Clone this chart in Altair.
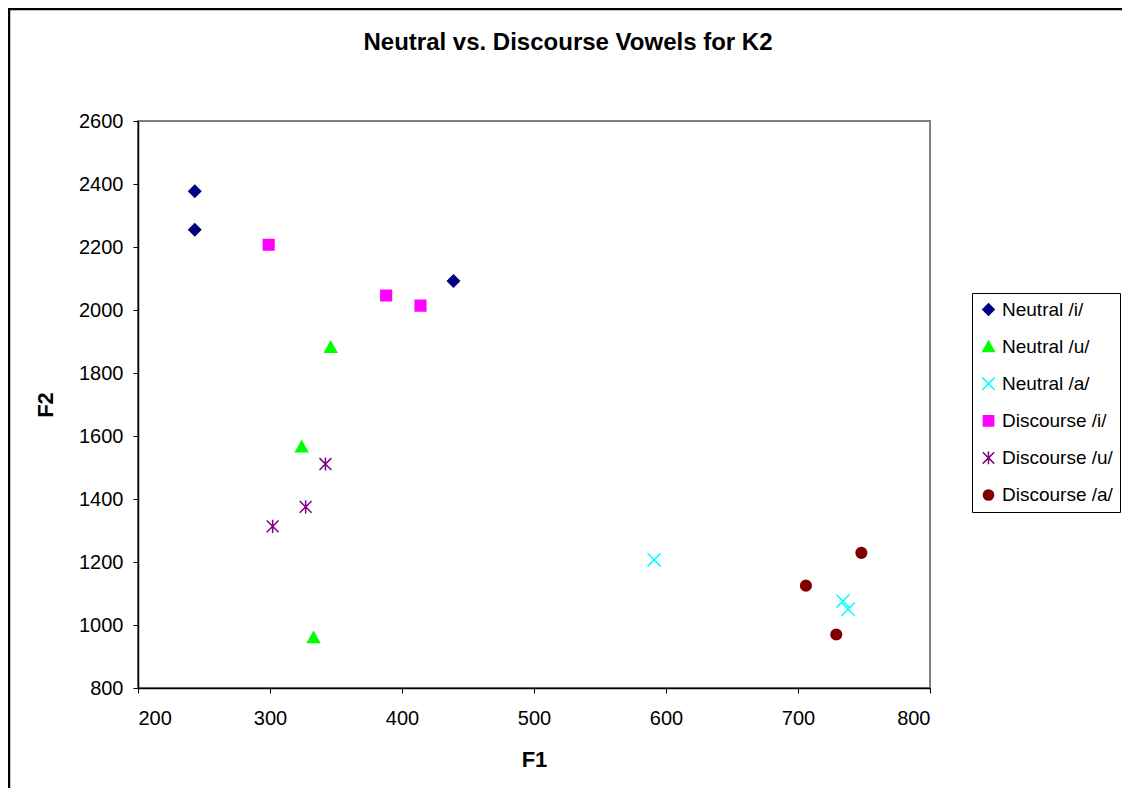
import altair as alt
import pandas as pd

series_names = ["Neutral /i/", "Neutral /u/", "Neutral /a/",
                "Discourse /i/", "Discourse /u/", "Discourse /a/"]
series_colors = ["#000080", "#00FF00", "#00FFFF", "#FF00FF", "#800080", "#800000"]

neutral_i_f1 = [243, 243, 439]
neutral_i_f2 = [2377, 2255, 2092]
neutral_u_f1 = [346, 324, 333]
neutral_u_f2 = [1882, 1566, 960]
neutral_a_f1 = [591, 734, 738]
neutral_a_f2 = [1207, 1076, 1050]
discourse_i_f1 = [299, 388, 414]
discourse_i_f2 = [2207, 2046, 2014]
discourse_u_f1 = [342, 327, 302]
discourse_u_f2 = [1511, 1375, 1313]
discourse_a_f1 = [748, 706, 729]
discourse_a_f2 = [1229, 1125, 970]

x_ticks = [200, 300, 400, 500, 600, 700, 800]
y_ticks = [800, 1000, 1200, 1400, 1600, 1800, 2000, 2200, 2400, 2600]

all_f1 = [neutral_i_f1, neutral_u_f1, neutral_a_f1, discourse_i_f1, discourse_u_f1, discourse_a_f1]
all_f2 = [neutral_i_f2, neutral_u_f2, neutral_a_f2, discourse_i_f2, discourse_u_f2, discourse_a_f2]

rows = []
for name, f1s, f2s in zip(series_names, all_f1, all_f2):
    for a, b in zip(f1s, f2s):
        rows.append({"series": name, "F1": a, "F2": b})
df = pd.DataFrame(rows)

# marker shapes (unit SVG paths)
shape_diamond = "M0,-0.95L0.95,0L0,0.95L-0.95,0Z"
shape_triangle = "M0,-0.9L0.95,0.8L-0.95,0.8Z"
shape_x = "M-1.05,-1.05L1.05,1.05M1.05,-1.05L-1.05,1.05"
shape_square = "M-0.85,-0.85L0.85,-0.85L0.85,0.85L-0.85,0.85Z"
shape_asterisk = "M-0.95,-0.95L0.95,0.95M0.95,-0.95L-0.95,0.95M0,-1.05L0,1.05"
shape_circle = "M0.85,0A0.85,0.85,0,1,1,-0.85,0A0.85,0.85,0,1,1,0.85,0Z"
series_shapes = [shape_diamond, shape_triangle, shape_x, shape_square, shape_asterisk, shape_circle]

FONT = "Liberation Sans"

legend = alt.Legend(
    title=None, orient="none", legendX=834, legendY=172,
    padding=7, strokeColor="black", fillColor="white",
    labelFontSize=19, labelFont=FONT, labelColor="black",
    rowPadding=17.1, symbolSize=144, symbolStrokeWidth=1.5, labelOffset=4,
)

points = alt.Chart(df).mark_point(filled=True, opacity=1, size=156, strokeWidth=1.5).encode(
    x=alt.X("F1:Q", scale=alt.Scale(domain=[200, 800], nice=False, zero=False),
            axis=alt.Axis(values=x_ticks, title="F1", grid=False, format="d",
                          titleX=396, titleY=71,
                          titleBaseline="middle", titleAlign="center")),
    y=alt.Y("F2:Q", scale=alt.Scale(domain=[800, 2600], nice=False, zero=False),
            axis=alt.Axis(values=y_ticks, title="F2", grid=False, format="d",
                          titleX=-93, titleY=283.5,
                          titleBaseline="middle", titleAlign="center", titleAngle=-90)),
    fill=alt.Fill("series:N", scale=alt.Scale(domain=series_names, range=series_colors), legend=legend),
    stroke=alt.Stroke("series:N", scale=alt.Scale(domain=series_names, range=series_colors), legend=legend),
    shape=alt.Shape("series:N", scale=alt.Scale(domain=series_names, range=series_shapes), legend=legend),
)

frame = alt.Chart(pd.DataFrame({"k": [0]})).mark_rect(
    fill=None, stroke="black", strokeWidth=2.5
).encode(
    x=alt.value(-129), x2=alt.value(1200), y=alt.value(-112), y2=alt.value(900)
)

chart = alt.layer(frame, points).properties(
    width=792, height=567,
    background="white",
    autosize=alt.AutoSizeParams(type="none"),
    padding={"left": 130, "top": 113, "right": 192, "bottom": 100},
    title=alt.TitleParams(
        "Neutral vs. Discourse Vowels for K2", fontSize=24, fontWeight="bold", font=FONT,
        color="black", anchor="middle", dx=34, offset=0, dy=47,
    ),
).configure_view(
    stroke="#808080", strokeWidth=2
).configure_axis(
    labelFont=FONT, labelFontSize=20, labelColor="black",
    titleFont=FONT, titleFontSize=22, titleFontWeight="bold", titleColor="black",
    domainColor="black", domainWidth=1.5, tickColor="black", tickSize=5, tickWidth=1,
    labelPadding=10,
).configure_axisX(
    labelPadding=15
)

chart.save("out.html", embed_options={"renderer": "svg", "actions": False})
